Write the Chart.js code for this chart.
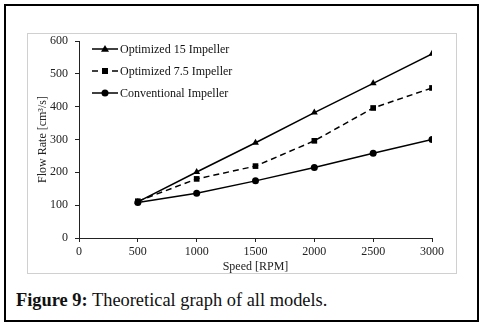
<!DOCTYPE html>
<html>
<head>
<meta charset="utf-8">
<script src="https://cdn.jsdelivr.net/npm/chart.js@4"></script>
<style>
  html, body { margin: 0; padding: 0; background: #fff; }
  body { width: 483px; height: 326px; position: relative; overflow: hidden; }
  .outer { position: absolute; left: 4px; top: 4px; width: 471px; height: 314px; border: 2px solid #000; }
  .frame { position: absolute; left: 27px; top: 33px; width: 428px; height: 239px; border: 1px solid #d0d0d0; }
  .frame canvas { position: absolute; left: -1px; top: -1px; }
  .caption { position: absolute; left: 16px; top: 290px; font-family: "Liberation Serif", serif; font-size: 18.4px; color: #111; }
  .caption b { font-weight: bold; }
</style>
</head>
<body>
<div class="outer"></div>
<div class="frame"><canvas id="chart" width="430" height="241"></canvas></div>
<div class="caption"><b>Figure 9:</b> Theoretical graph of all models.</div>
<script>
// speeds (RPM)
const speeds = [500, 1000, 1500, 2000, 2500, 3000];
// flow rate cm3/s
const optimized15 = [110, 201, 290, 382, 471, 561];
const optimized75 = [112, 180, 219, 296, 396, 457];
const conventional = [108, 136, 174, 215, 258, 300];
const seriesLabels = ['Optimized 15 Impeller', 'Optimized 7.5 Impeller', 'Conventional Impeller'];
const xTicks = [0, 500, 1000, 1500, 2000, 2500, 3000];
const yTicks = [0, 100, 200, 300, 400, 500, 600];

const FONT = '"Liberation Serif", "Times New Roman", serif';

const toPoints = vals => vals.map((v, i) => ({ x: speeds[i], y: v }));

// little legend drawn inside the plot, top left
const insideLegend = {
  id: 'insideLegend',
  afterDraw(chart) {
    const ctx = chart.ctx;
    const rows = [16, 38, 60];
    ctx.save();
    chart.data.datasets.forEach((ds, i) => {
      const y = rows[i];
      ctx.strokeStyle = '#000';
      ctx.lineWidth = 1.5;
      ctx.setLineDash(ds.borderDash || []);
      ctx.beginPath();
      ctx.moveTo(65, y);
      ctx.lineTo(91, y);
      ctx.stroke();
      ctx.setLineDash([]);
      ctx.fillStyle = '#000';
      const cx = 78, r = ds.pointRadius;
      if (ds.pointStyle === 'triangle') {
        ctx.beginPath();
        ctx.moveTo(cx, y - r);
        ctx.lineTo(cx + r, y + r * 0.7);
        ctx.lineTo(cx - r, y + r * 0.7);
        ctx.closePath();
        ctx.fill();
      } else if (ds.pointStyle === 'rect') {
        ctx.fillRect(cx - r * 0.75, y - r * 0.75, r * 1.5, r * 1.5);
      } else {
        ctx.beginPath();
        ctx.arc(cx, y, r, 0, Math.PI * 2);
        ctx.fill();
      }
      ctx.font = '12px ' + FONT;
      ctx.textBaseline = 'middle';
      ctx.fillStyle = '#111';
      ctx.fillText(ds.label, 93, y + 1);
    });
    ctx.restore();
  }
};

new Chart(document.getElementById('chart'), {
  type: 'line',
  data: {
    datasets: [
      { label: seriesLabels[0], data: toPoints(optimized15), pointStyle: 'triangle', pointRadius: 4 },
      { label: seriesLabels[1], data: toPoints(optimized75), pointStyle: 'rect', pointRadius: 4, borderDash: [6, 4] },
      { label: seriesLabels[2], data: toPoints(conventional), pointStyle: 'circle', pointRadius: 3.5 },
    ].map(d => Object.assign({
      borderColor: '#000',
      backgroundColor: '#000',
      pointBackgroundColor: '#000',
      pointBorderColor: '#000',
      pointBorderWidth: 0,
      borderWidth: 1.5,
      fill: false,
      tension: 0,
    }, d)),
  },
  options: {
    responsive: false,
    animation: false,
    layout: { padding: { top: 8, right: 25, left: 0, bottom: 0 } },
    plugins: { legend: { display: false }, tooltip: { enabled: false } },
    scales: {
      x: {
        type: 'linear',
        min: 0, max: 3000,
        afterBuildTicks: s => { s.ticks = xTicks.map(v => ({ value: v })); },
        afterFit: s => { s.height = 36; },
        border: { display: true, color: '#222', width: 1 },
        grid: { drawOnChartArea: false, drawTicks: true, tickLength: 4, color: '#222' },
        ticks: { color: '#222', padding: 3, font: { family: FONT, size: 12 }, callback: v => String(v) },
        title: { display: true, text: 'Speed [RPM]', color: '#222', padding: { top: 0, bottom: 0 }, font: { family: FONT, size: 12 } },
      },
      y: {
        min: 0, max: 600,
        afterBuildTicks: s => { s.ticks = yTicks.map(v => ({ value: v })); },
        afterFit: s => { s.width = 52; s.paddingTop = 0; s.paddingBottom = 0; },
        border: { display: true, color: '#222', width: 1 },
        grid: { drawOnChartArea: false, drawTicks: true, tickLength: 4, color: '#222' },
        ticks: { color: '#222', padding: 7, font: { family: FONT, size: 12 }, callback: v => String(v) },
        title: { display: true, text: 'Flow Rate [cm³/s]', color: '#222', padding: { top: 9, bottom: 0 }, font: { family: FONT, size: 12 } },
      },
    },
  },
  plugins: [insideLegend],
});
</script>
</body>
</html>
